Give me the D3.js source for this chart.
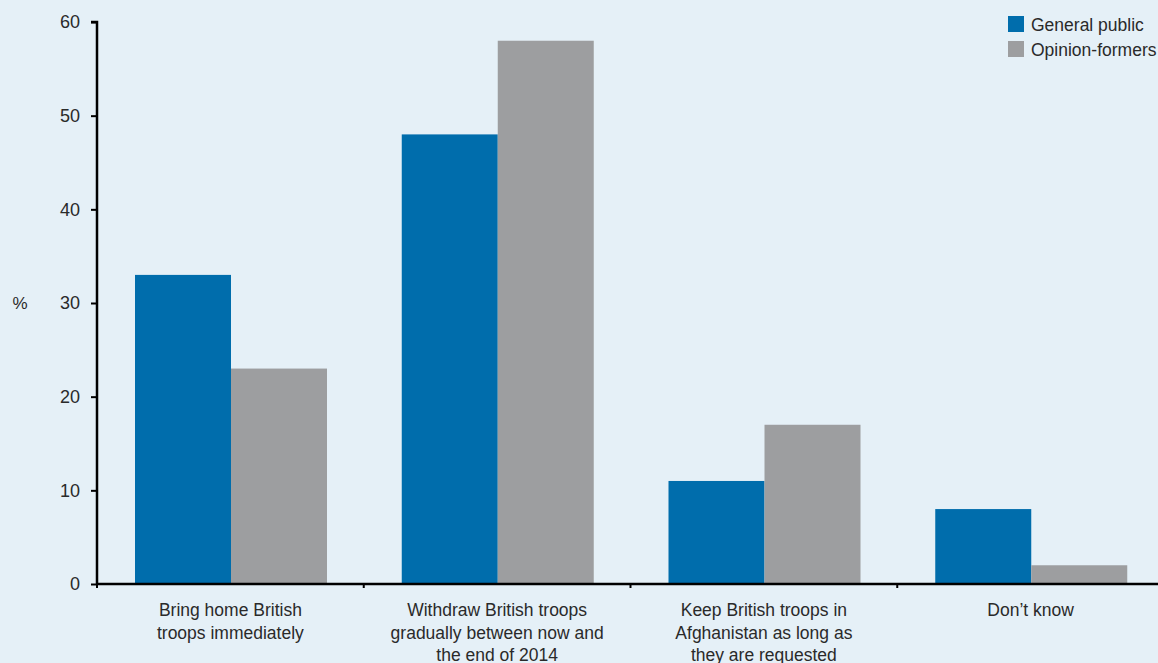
<!DOCTYPE html>
<html><head><meta charset="utf-8">
<script src="https://cdn.jsdelivr.net/npm/d3@7"></script>
<style>body{margin:0;background:#e5f0f7;}svg{display:block;font-family:"Liberation Sans",Arial,sans-serif;}</style>
</head><body>
<svg id="c" width="1158" height="663"></svg>
<script>
const categories = [
  ["Bring home British", "troops immediately"],
  ["Withdraw British troops", "gradually between now and", "the end of 2014"],
  ["Keep British troops in", "Afghanistan as long as", "they are requested"],
  ["Don\u2019t know"]
];
const seriesNames = ["General public", "Opinion-formers"];
const generalPublic = [33, 48, 11, 8];
const opinionFormers = [23, 58, 17, 2];
const yTicks = [0, 10, 20, 30, 40, 50, 60];
const colors = ["#006dac", "#9d9ea0"];

const svg = d3.select("#c");
svg.append("rect").attr("width",1158).attr("height",663).attr("fill","#e5f0f7");
const x0 = 97, x1 = 1164, yTop = 22, yBot = 584;
const idx = categories.map((d,i)=>i);
const x = d3.scaleBand().domain(idx).range([x0, x1]).paddingInner(0).paddingOuter(0);
const y = d3.scaleLinear().domain([0,60]).range([yBot, yTop]);
const inner = d3.scaleBand().domain([0,1]).range([38, 38+192]).padding(0);
const series = [generalPublic, opinionFormers];

const g = svg.append("g");
series.forEach((vals, s) => {
  g.selectAll(".b"+s).data(vals).join("rect")
    .attr("x", (d,i)=>x(i)+inner(s))
    .attr("width", inner.bandwidth())
    .attr("y", d=>y(d))
    .attr("height", d=>yBot-y(d))
    .attr("fill", colors[s]);
});

// y axis
const ya = svg.append("g").attr("transform",`translate(${x0},0)`)
  .call(d3.axisLeft(y).tickValues(yTicks).tickSize(6).tickPadding(11));
ya.select(".domain").attr("stroke","#000").attr("stroke-width",2.5).attr("d",`M-6,${yTop}H0V${yBot}`);
ya.selectAll(".tick line").attr("stroke","#000").attr("stroke-width",2);
ya.selectAll(".tick text").attr("font-size",18).attr("fill","#2a2a2a");

// x axis
const xa = svg.append("g").attr("transform",`translate(0,${yBot})`);
xa.append("line").attr("x1",x0).attr("x2",1158).attr("y1",0).attr("y2",0).attr("stroke","#000").attr("stroke-width",2.5);
xa.selectAll(".xt").data(idx).join("line")
  .attr("x1",d=>x(d)).attr("x2",d=>x(d)).attr("y1",0).attr("y2",4)
  .attr("stroke","#000").attr("stroke-width",2);
xa.selectAll(".xl").data(categories).join("text")
  .attr("text-anchor","middle").attr("font-size",17.5).attr("fill","#2a2a2a")
  .attr("transform",(d,i)=>`translate(${x(i)+x.bandwidth()/2},0)`)
  .each(function(lines){
    d3.select(this).selectAll("tspan").data(lines).join("tspan")
      .attr("x",0).attr("y",(l,j)=>32+j*22.5).text(l=>l);
  });

svg.append("text").attr("x",20).attr("y",309).attr("text-anchor","middle")
  .attr("font-size",17).attr("fill","#2a2a2a").text("%");

// legend
const lg = svg.append("g").attr("transform","translate(1008,16)");
seriesNames.forEach((n,i)=>{
  lg.append("rect").attr("x",0).attr("y",i*25).attr("width",16).attr("height",16).attr("fill",colors[i]);
  lg.append("text").attr("x",23).attr("y",i*25+14.5).attr("font-size",17.5).attr("fill","#2a2a2a").text(n);
});
</script>
</body></html>
